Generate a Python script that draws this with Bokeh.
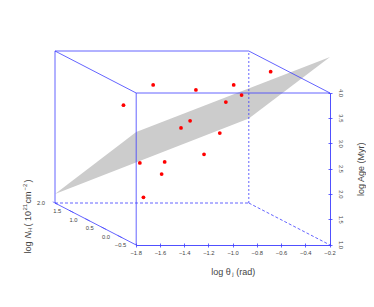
from bokeh.plotting import figure
from bokeh.models import LinearAxis, FixedTicker, Range1d
from bokeh.core.properties import value
from bokeh.embed import file_html
from bokeh.resources import INLINE

# values
theta_ticks = [-1.8, -1.6, -1.4, -1.2, -1.0, -0.8, -0.6, -0.4, -0.2]
age_ticks = [1.0, 1.5, 2.0, 2.5, 3.0, 3.5, 4.0]
nh_ticks = [2.0, 1.5, 1.0, 0.5, 0.0, -0.5]
# points as seen on the front plane of the box (theta, age)
pt_theta = [-1.905, -1.66, -1.307, -0.93, -0.995, -0.69, -1.06, -1.355, -1.43, -1.11, -1.77, -1.565, -1.24, -1.59, -1.74]
pt_age = [3.76, 4.16, 4.06, 3.96, 4.16, 4.42, 3.82, 3.45, 3.31, 3.21, 2.62, 2.64, 2.79, 2.40, 1.94]
# fitted plane corners (theta, nh, age)
plane_theta = [-1.8, -1.8, -0.2, -0.2]
plane_nh = [2.0, -0.5, -0.5, 2.0]
plane_age = [1.18, 3.23, 4.71, 2.67]

BLUE = "#3c3cff"
TXT = "#444444"
FONT = "Liberation Sans"
FR_L, FR_R, FR_B = 135.7, 329.5, 244.5
PXX = (FR_R - FR_L) / 1.6
PXY = 152 / 3.0
DX = -81.2 / PXX
DY = 42.0 / PXY

def ox(t, n):
    return t + (n + 0.5) / 2.5 * DX
def oy(a, n):
    return a + (n + 0.5) / 2.5 * DY
def fmt(v):
    return f"{v:.1f}".replace("-", "\u2212")

W, H = 366, 299
x0 = -1.8 - FR_L / PXX
y0 = 1.0 - (H - FR_B) / PXY
p = figure(width=W, height=H, output_backend="svg", toolbar_location=None,
           x_range=Range1d(x0, x0 + W / PXX), y_range=Range1d(y0, y0 + H / PXY),
           min_border=0, x_axis_type=None, y_axis_type=None)
p.outline_line_color = None
p.grid.visible = False

p.patch([ox(t, n) for t, n in zip(plane_theta, plane_nh)],
        [oy(a, n) for a, n in zip(plane_age, plane_nh)],
        fill_color="#cccccc", line_color=None)

tl, tr = theta_ticks[0], theta_ticks[-1]
al, ah = age_ticks[0], age_ticks[-1]
nb, nf = nh_ticks[0], nh_ticks[-1]

def edges(items, dash):
    p.segment([ox(e[0], e[1]) for e in items], [oy(e[2], e[1]) for e in items],
              [ox(e[3], e[4]) for e in items], [oy(e[5], e[4]) for e in items],
              line_color=BLUE, line_width=0.8, line_dash=dash)

edges([(tl, nb, ah, tr, nb, ah), (tl, nb, al, tl, nb, ah),
       (tl, nb, ah, tl, nf, ah), (tr, nb, ah, tr, nf, ah), (tl, nb, al, tl, nf, al),
       (tl, nf, ah, tr, nf, ah), (tl, nf, al, tl, nf, ah)], "solid")
edges([(tl, nb, al, tr, nb, al), (tr, nb, al, tr, nf, al)], "3 2")
edges([(tr, nb, al, tr, nb, ah)], "2 2")

# tick marks along the oblique NH edge
p.segment([ox(tl, n - 0.07) for n in nh_ticks[:-1]], [oy(al, n - 0.07) for n in nh_ticks[:-1]],
          [ox(tl, n + 0.07) for n in nh_ticks[:-1]], [oy(al, n + 0.07) for n in nh_ticks[:-1]],
          line_color=BLUE, line_width=0.6)

xa = LinearAxis(fixed_location=al, bounds=(tl, tr), ticker=FixedTicker(ticks=theta_ticks),
                major_label_overrides={t: fmt(t) for t in theta_ticks})
ya = LinearAxis(fixed_location=tr, bounds=(al, ah), ticker=FixedTicker(ticks=age_ticks),
                major_label_overrides={a: fmt(a) for a in age_ticks})
for a in (xa, ya):
    a.axis_line_color = BLUE
    a.axis_line_width = 0.9
    a.major_tick_line_color = BLUE
    a.major_tick_line_width = 0.8
    a.major_tick_in = 2
    a.major_tick_out = 2
    a.minor_tick_line_color = None
    a.major_label_text_font = FONT
    a.major_label_text_font_size = "5.8px"
    a.major_label_text_color = TXT
xa.major_label_standoff = 4
ya.major_label_standoff = 7
ya.major_label_orientation = "vertical"
p.add_layout(xa, "below")
p.add_layout(ya, "right")

# NH tick labels beside the oblique edge
p.text([ox(tl, n) - 10 / PXX for n in nh_ticks], [oy(al, n) for n in nh_ticks],
       text=[fmt(n) for n in nh_ticks],
       text_font=value(FONT), text_font_size=value("5.8px"), text_color=TXT,
       text_align="right", text_baseline="middle")

p.scatter(pt_theta, pt_age, size=3.8, fill_color="#ff0000", line_color=None)

def lab(x, y, s, size="9px", angle=0.0, style="normal", align="left"):
    p.text([x], [y], text=[s], text_font=value(FONT), text_font_size=value(size),
           text_color=TXT, angle=angle, text_font_style=style,
           text_align=align, text_baseline="middle")

ANG = 1.5708
# x title
lab(-1.18, 0.47, "log \u03b8")
lab(-1.18 + 21 / PXX, 0.43, "j", size="6px")
lab(-1.18 + 25 / PXX, 0.47, "(rad)")
# age title
lab(-0.2 + 31 / PXX, 2.5, "log Age (Myr)", angle=ANG, align="center")
# NH title built bottom to top
px = -1.8 - 108 / PXX
def y_at(pix):
    return 1.0 + (FR_B - pix) / PXY
lab(px, y_at(253), "log ", angle=ANG)
lab(px, y_at(238), "N", angle=ANG, style="italic")
lab(px + 2 / PXX, y_at(231.5), "H", size="6px", angle=ANG)
lab(px, y_at(226), "( 10", angle=ANG)
lab(px - 3 / PXX, y_at(210), "21", size="6px", angle=ANG)
lab(px, y_at(203), "cm", angle=ANG)
lab(px - 3 / PXX, y_at(190), "\u22122", size="6px", angle=ANG)
lab(px, y_at(182), ")", angle=ANG)

open("out.html", "w").write(file_html(p, INLINE))
